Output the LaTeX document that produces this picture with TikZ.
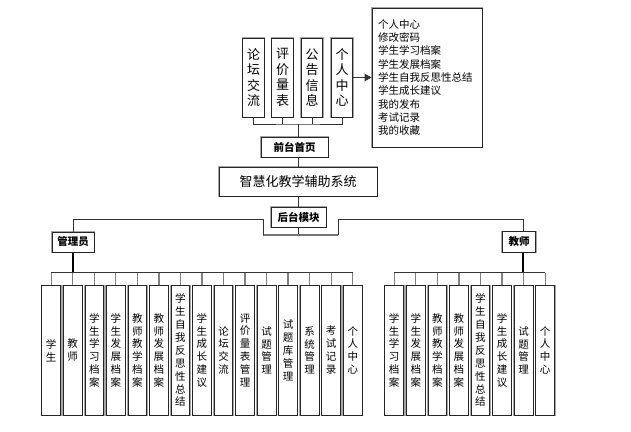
\documentclass[tikz,border=0pt]{standalone}
\usepackage{fontspec}
\newfontfamily\cjk{Noto Sans CJK SC}
\usetikzlibrary{arrows.meta}
\begin{document}
\begin{tikzpicture}[x=1pt,y=-1pt,
  box/.style={draw=black!85, line width=0.8pt, inner sep=0pt, align=center, fill=white,
    preaction={draw=black!35, line width=2pt}},
  topbox/.style={box, minimum width=21.6pt, minimum height=79pt, font=\cjk\fontsize{13}{15.5}\selectfont},
  vbox/.style={box, minimum width=18.7pt, minimum height=129.3pt, font=\cjk\fontsize{10.5}{12.9}\selectfont},
  lbl/.style={box, line width=1pt, font=\cjk\bfseries\fontsize{10.5}{12}\selectfont},
  conn/.style={draw=black!80, line width=0.8pt},
  tick/.style={draw=black!50, line width=1.3pt},
  thickconn/.style={draw=black, line width=1.6pt},
  grayconn/.style={draw=black!55, line width=1.4pt}]
\useasboundingbox (0,0) rectangle (631,431);

% front end
\node[topbox] (t1) at (253.5,77.5) {论\\坛\\交\\流};
\node[topbox] (t2) at (282.5,77.5) {评\\价\\量\\表};
\node[topbox] (t3) at (312,77.5) {公\\告\\信\\息};
\node[topbox] (t4) at (342,77.5) {个\\人\\中\\心};
\node[box, minimum width=110pt, minimum height=139pt, text width=98pt, align=left,
      font=\cjk\fontsize{10.5}{13.3}\selectfont] (info) at (427,77.5)
  {个人中心\\修改密码\\学生学习档案\\学生发展档案\\学生自我反思性总结\\学生成长建议\\我的发布\\考试记录\\我的收藏};
\draw[conn, -{Triangle[length=7pt,width=7.5pt]}] (t4.east) -- (info.west);

\node[lbl, minimum width=67pt, minimum height=20pt] (front) at (294.5,147) {前台首页};
\coordinate (tj) at (298,124);
\draw[conn] (t1.south) |- (tj) -| (t4.south);
\draw[conn] (t2.south) -- (t2.south |- tj);
\draw[conn] (t3.south) -- (t3.south |- tj);
\draw[conn] (tj) -- (front.north -| tj);

\node[box, minimum width=158pt, minimum height=29pt, font=\cjk\fontsize{13}{15}\selectfont] (sys) at (298,181.5) {智慧化教学辅助系统};
\draw[conn] (front.south -| sys) -- (sys.north);

\node[lbl, minimum width=55pt, minimum height=20pt] (back) at (298.5,217) {后台模块};
\draw[conn] (sys.south) -- (sys.south |- back.north);

% back-end split
\coordinate (bj) at (298,235);
\coordinate (bl) at (263,235);
\coordinate (br) at (338,235);
\coordinate (bl2) at (263,219);
\coordinate (br2) at (338,219);
\coordinate (tc) at (523,0);
\draw[conn] (back.south -| bj) -- (bj);
\draw[grayconn] (bl) -- (br);
\draw[conn] (bl) -- (bl2);
\draw[conn] (br) -- (br2);

\node[lbl, minimum width=42pt, minimum height=20pt] (admin) at (73,242) {管理员};
\node[lbl, minimum width=33.4pt, minimum height=20.6pt] (teacher) at (519,242) {教师};
\draw[conn] (bl2) -| (admin.north);
\draw[conn] (br2) -- (br2 -| tc) -- (teacher.north -| tc);

% admin boxes
\foreach \t [count=\i] in {{学\\生},{教\\师},{学\\生\\学\\习\\档\\案},{学\\生\\发\\展\\档\\案},
  {教\\师\\教\\学\\档\\案},{教\\师\\发\\展\\档\\案},{学\\生\\自\\我\\反\\思\\性\\总\\结},
  {学\\生\\成\\长\\建\\议},{论\\坛\\交\\流},{评\\价\\量\\表\\管\\理},{试\\题\\管\\理},
  {试\\题\\库\\管\\理},{系\\统\\管\\理},{考\\试\\记\\录},{个\\人\\中\\心}}
  \node[vbox] (a\i) at ({51.2+21.54*(\i-1)},350.35) {\t};

\coordinate (abar) at (73,272.7);
\foreach \i in {1,...,15} \draw[tick] (a\i.north) -- (a\i.north |- abar);
\draw[thickconn] (admin.south) -- (abar);
\draw[conn] (a1.north |- abar) -- (a15.north |- abar);

% teacher boxes
\foreach \t [count=\i] in {{学\\生\\学\\习\\档\\案},{学\\生\\发\\展\\档\\案},
  {教\\师\\教\\学\\档\\案},{教\\师\\发\\展\\档\\案},{学\\生\\自\\我\\反\\思\\性\\总\\结},
  {学\\生\\成\\长\\建\\议},{试\\题\\管\\理},{个\\人\\中\\心}}
  \node[vbox] (b\i) at ({394.2+21.57*(\i-1)},350.35) {\t};

\coordinate (tbar) at (523,272.7);
\foreach \i in {1,...,8} \draw[tick] (b\i.north) -- (b\i.north |- tbar);
\draw[thickconn] (teacher.south -| tc) -- (tbar);
\draw[conn] (b1.north |- tbar) -- (b8.north |- tbar);
\end{tikzpicture}
\end{document}
